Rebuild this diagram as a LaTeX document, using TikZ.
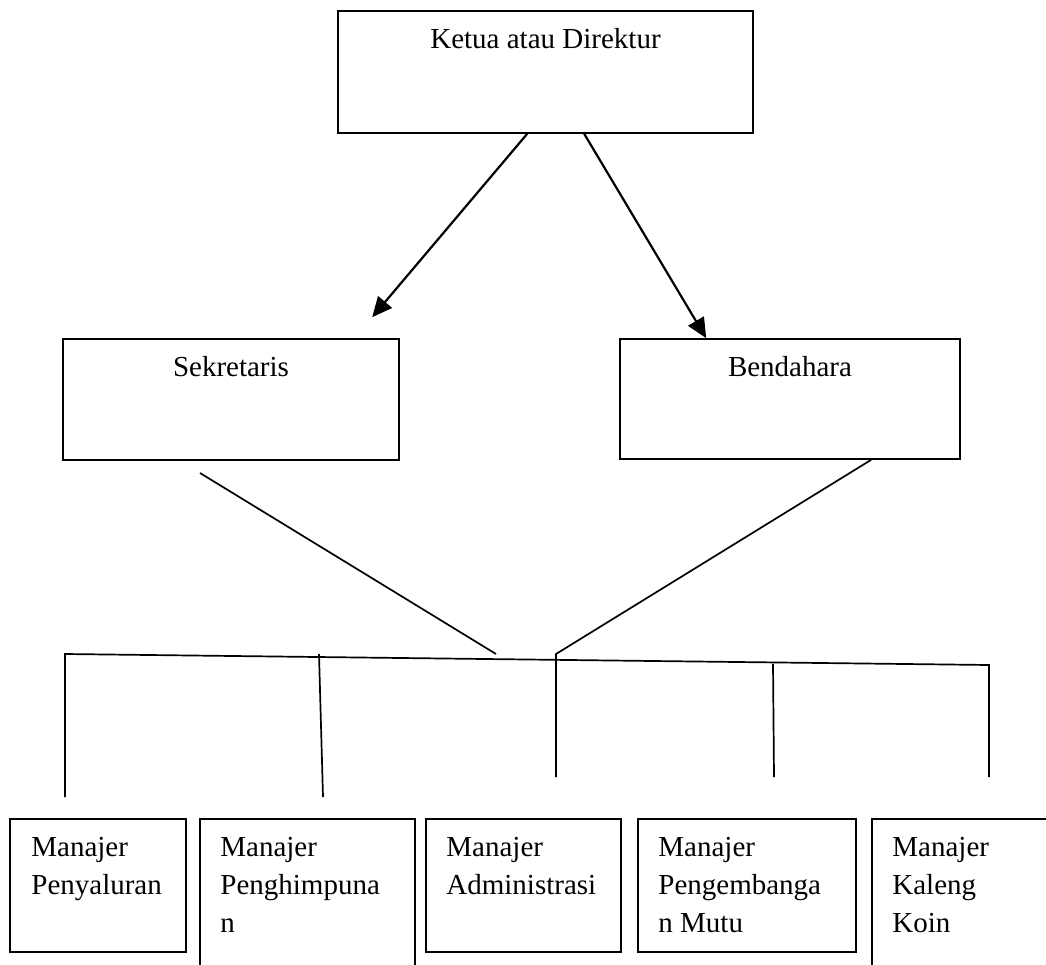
\documentclass[tikz,border=0pt]{standalone}
\usepackage{fontspec}
\setmainfont{Liberation Serif}
\usetikzlibrary{arrows.meta,calc}
\tikzset{
  box/.style={draw=black, line width=1.6pt, rectangle, inner sep=0pt, fill=white},
  txt/.style={inner sep=0pt, font=\fontsize{29}{38}\selectfont},
  conn/.style={draw=black, line width=1.7pt},
  arr/.style={draw=black, line width=2.2pt, -{Triangle[length=20pt,width=18pt]}},
}
\newcommand{\lines}[1]{\begin{tabular}[t]{@{}l@{}}#1\end{tabular}}
\begin{document}
\begin{tikzpicture}[x=1pt,y=-1pt]
\useasboundingbox (0,0) rectangle (1046,965);
\clip (0,0) rectangle (1046,965);
\fill[white] (0,0) rectangle (1046,965);

% boxes
\node[box, minimum width=415pt, minimum height=122pt] (ketua) at (545.5,72) {};
\node[box, minimum width=336pt, minimum height=121pt] (sek) at (231,399.5) {};
\node[box, minimum width=340pt, minimum height=120pt] (ben) at (790,399) {};
\node[box, minimum width=176pt, minimum height=133pt] (b1) at (98,885.5) {};
\node[box, minimum width=215pt, minimum height=181pt] (b2) at (307.5,909.5) {};
\node[box, minimum width=195pt, minimum height=133pt] (b3) at (523.5,885.5) {};
\node[box, minimum width=218pt, minimum height=133pt] (b4) at (747,885.5) {};
\node[box, minimum width=208pt, minimum height=181pt] (b5) at (976,909.5) {};

% texts
\node[txt, anchor=base] (tketua) at ($(ketua.north)+(0,38)$) {Ketua atau Direktur};
\node[txt, anchor=base] (tsek) at ($(sek.north)+(0,38)$) {Sekretaris};
\node[txt, anchor=base] (tben) at ($(ben.north)+(0,38)$) {Bendahara};
\node[txt, anchor=base west] (t1) at ($(b1.north west)+(22,38)$) {\lines{Manajer\\Penyaluran}};
\node[txt, anchor=base west] (t2) at ($(b2.north west)+(21,38)$) {\lines{Manajer\\Penghimpuna\\n}};
\node[txt, anchor=base west] (t3) at ($(b3.north west)+(21,38)$) {\lines{Manajer\\Administrasi}};
\node[txt, anchor=base west] (t4) at ($(b4.north west)+(21,38)$) {\lines{Manajer\\Pengembanga\\n Mutu}};
\node[txt, anchor=base west] (t5) at ($(b5.north west)+(21,38)$) {\lines{Manajer\\Kaleng\\Koin}};

% arrows
\coordinate (kL) at ($(ketua.south west)+(190,0)$);
\coordinate (kR) at ($(ketua.south west)+(247,0)$);
\coordinate (sekTip) at ($(sek.north west)+(310,-21)$);
\coordinate (benTip) at ($(ben.north west)+(87,0)$);
\draw[arr] (kL) -- (sekTip);
\draw[arr] (kR) -- (benTip);

% connectors
\coordinate (sekOut) at (200,473);
\coordinate (sekEnd) at (496,654);
\coordinate (benOut) at ($(ben.south west)+(252,0)$);
\coordinate (jn) at (556,654);
\coordinate (barL) at (65,654);
\coordinate (barR) at (989,665);
\coordinate (v2top) at (319,654);
\coordinate (v4top) at (773,664);

\draw[conn] (sekOut) -- (sekEnd);
\draw[conn] (benOut) -- (jn) -- (556,777);
\draw[conn] (65,797) -- (barL) -- (barR) -- (989,777);
\draw[conn] (v2top) -- (323,797);
\draw[conn] (v4top) -- (774,777);
\end{tikzpicture}
\end{document}
